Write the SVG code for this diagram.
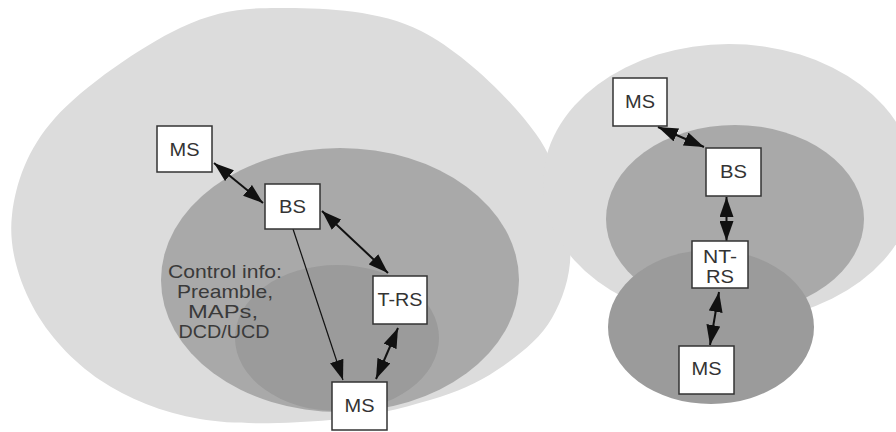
<svg xmlns="http://www.w3.org/2000/svg" width="896" height="432" viewBox="0 0 896 432">
  <style>
    .light { fill: #dcdcdc; }
    .mid { fill: #a9a9a9; }
    .dark { fill: #9b9b9b; }
    .box { fill: #ffffff; stroke: #333333; stroke-width: 1.5; }
    .lbl { font-family: "Liberation Sans", Arial, sans-serif; font-size: 19px; fill: #333333; text-anchor: middle; }
    .note { font-family: "Liberation Sans", Arial, sans-serif; font-size: 19px; fill: #3a3a3a; text-anchor: middle; }
    .link { stroke: #111111; stroke-width: 2; fill: none; }
    .thin { stroke: #111111; stroke-width: 1.2; fill: none; }
  </style>
  <defs>
    <marker id="head" markerUnits="userSpaceOnUse" markerWidth="20" markerHeight="14" refX="20" refY="7" orient="auto-start-reverse">
      <path d="M0,0 L20,7 L0,14 z" fill="#111111"/>
    </marker>
  </defs>

  <!-- coverage areas -->
  <g id="areas">
    <path class="light" d="M287,8 C327.2,8.5 379.5,10 421,31 C462.5,52 511.2,99.2 536,134 C560.8,168.8 567.3,209.3 570,240 C572.7,270.7 564.2,296.3 552,318 C539.8,339.7 517.3,356.3 497,370 C476.7,383.7 457.8,391.7 430,400 C402.2,408.3 368.3,416.8 330,420 C291.7,423.2 238.3,425.7 200,419 C161.7,412.3 127.8,398.7 100,380 C72.2,361.3 47.7,334.5 33,307 C18.3,279.5 8.3,246.5 12,215 C15.7,183.5 27,149.2 55,118 C83,86.8 141.3,46.3 180,28 C218.7,9.7 246.8,7.5 287,8 Z"/>
    <ellipse class="light" cx="729" cy="183" rx="186" ry="139"/>
    <ellipse class="mid" cx="340" cy="280" rx="179" ry="132"/>
    <ellipse class="dark" cx="337" cy="338" rx="102" ry="73"/>
    <ellipse class="mid" cx="735" cy="219" rx="129" ry="94"/>
    <ellipse class="dark" cx="711" cy="327" rx="103" ry="77"/>
  </g>

  <text class="note" x="225" y="278" textLength="114" lengthAdjust="spacingAndGlyphs">Control info:</text>
  <text class="note" x="225" y="298" textLength="96" lengthAdjust="spacingAndGlyphs">Preamble,</text>
  <text class="note" x="223" y="318" textLength="70" lengthAdjust="spacingAndGlyphs">MAPs,</text>
  <text class="note" x="224" y="338" textLength="91" lengthAdjust="spacingAndGlyphs">DCD/UCD</text>

  <!-- links -->
  <g id="connectors">
    <line class="link" x1="214" y1="163" x2="263" y2="203" marker-start="url(#head)" marker-end="url(#head)"/>
    <line class="link" x1="322" y1="211" x2="388" y2="273" marker-start="url(#head)" marker-end="url(#head)"/>
    <line class="thin" x1="293" y1="229" x2="343" y2="380" marker-end="url(#head)"/>
    <line class="link" x1="398" y1="328" x2="376" y2="379" marker-start="url(#head)" marker-end="url(#head)"/>
    <line class="link" x1="658" y1="127" x2="704" y2="147" marker-start="url(#head)" marker-end="url(#head)"/>
    <line class="link" x1="726.5" y1="197" x2="726.5" y2="241" marker-start="url(#head)" marker-end="url(#head)"/>
    <line class="link" x1="719" y1="292" x2="710" y2="345" marker-start="url(#head)" marker-end="url(#head)"/>
  </g>

  <!-- stations -->
  <g id="ms-left">
    <rect class="box" x="157" y="126" width="55" height="46"/>
    <text class="lbl" x="184.5" y="156" textLength="30" lengthAdjust="spacingAndGlyphs">MS</text>
  </g>
  <g id="bs-left">
    <rect class="box" x="265" y="184" width="55" height="45"/>
    <text class="lbl" x="292.5" y="213" textLength="27" lengthAdjust="spacingAndGlyphs">BS</text>
  </g>
  <g id="t-rs">
    <rect class="box" x="373" y="276" width="54" height="48"/>
    <text class="lbl" x="400" y="306" textLength="45" lengthAdjust="spacingAndGlyphs">T-RS</text>
  </g>
  <g id="ms-bottom">
    <rect class="box" x="332" y="382" width="55" height="48"/>
    <text class="lbl" x="359.5" y="412" textLength="30" lengthAdjust="spacingAndGlyphs">MS</text>
  </g>
  <g id="ms-right">
    <rect class="box" x="613" y="78" width="54" height="48"/>
    <text class="lbl" x="640" y="108" textLength="30" lengthAdjust="spacingAndGlyphs">MS</text>
  </g>
  <g id="bs-right">
    <rect class="box" x="706" y="148" width="55" height="48"/>
    <text class="lbl" x="733.5" y="178" textLength="27" lengthAdjust="spacingAndGlyphs">BS</text>
  </g>
  <g id="nt-rs">
    <rect class="box" x="692" y="241" width="56" height="47"/>
    <text class="lbl" x="720" y="263" textLength="34" lengthAdjust="spacingAndGlyphs">NT-</text>
    <text class="lbl" x="720" y="283" textLength="28" lengthAdjust="spacingAndGlyphs">RS</text>
  </g>
  <g id="ms-right-bottom">
    <rect class="box" x="679" y="346" width="55" height="48"/>
    <text class="lbl" x="706.5" y="375" textLength="30" lengthAdjust="spacingAndGlyphs">MS</text>
  </g>
</svg>
